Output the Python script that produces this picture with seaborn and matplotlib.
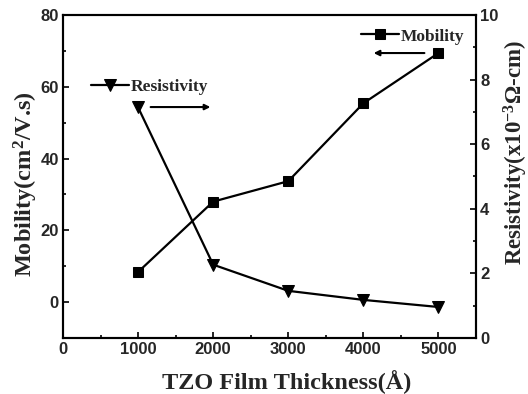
import matplotlib
matplotlib.use("Agg")
import matplotlib.pyplot as plt
from matplotlib.ticker import MultipleLocator
import pandas as pd
import seaborn as sns

thickness = [1000, 2000, 3000, 4000, 5000]
mobility = [8.4, 28.0, 33.7, 55.4, 69.4]
resistivity = [7.14, 2.27, 1.46, 1.18, 0.96]

sns.set_theme(style="ticks")
plt.rcParams["font.family"] = ["Liberation Serif", "DejaVu Serif"]
plt.rcParams["mathtext.fontset"] = "custom"
plt.rcParams["mathtext.rm"] = "Liberation Serif:bold"
plt.rcParams["mathtext.bf"] = "Liberation Serif:bold"
plt.rcParams["mathtext.it"] = "Liberation Serif:bold"

df = pd.DataFrame({"thickness": thickness, "mobility": mobility, "resistivity": resistivity})

fig = plt.figure(figsize=(5.28, 3.94), dpi=100)
ax = fig.add_axes([63 / 528, 56 / 394, 413 / 528, 323 / 394])
ax2 = ax.twinx()

sns.lineplot(data=df, x="thickness", y="mobility", ax=ax, color="black", marker="s",
             markersize=7, linewidth=1.6, markeredgecolor="black", label="Mobility", legend=False)
sns.lineplot(data=df, x="thickness", y="resistivity", ax=ax2, color="black", marker="v",
             markersize=9, linewidth=1.6, markeredgecolor="black", label="Resistivity", legend=False)

ax.set_xlim(0, 5500)
ax.set_ylim(-10, 80)
ax2.set_ylim(0, 10)

ax.xaxis.set_major_locator(MultipleLocator(1000))
ax.xaxis.set_minor_locator(MultipleLocator(500))
ax.yaxis.set_major_locator(MultipleLocator(20))
ax.yaxis.set_minor_locator(MultipleLocator(10))
ax2.yaxis.set_major_locator(MultipleLocator(2))
ax2.yaxis.set_minor_locator(MultipleLocator(1))

tick_font = dict(family="Liberation Sans", weight="bold", size=12)
for a in (ax, ax2):
    a.tick_params(which="both", direction="in", width=1.2, color="black", pad=3)
    a.tick_params(which="major", length=4)
    a.tick_params(which="minor", length=2.5)
    for sp in a.spines.values():
        sp.set_linewidth(1.5)
        sp.set_color("black")
ax.set_yticks([0, 20, 40, 60, 80])
ax.set_yticklabels(["0", "20", "40", "60", "80"], fontdict=tick_font)
ax.set_xticks([0, 1000, 2000, 3000, 4000, 5000])
ax.set_xticklabels(["0", "1000", "2000", "3000", "4000", "5000"], fontdict=tick_font)
ax2.set_yticks([0, 2, 4, 6, 8, 10])
ax2.set_yticklabels(["0", "2", "4", "6", "8", "10"], fontdict=tick_font)

ax.set_xlabel("TZO Film Thickness(Å)", family="Liberation Serif", weight="bold",
              size=17.5, labelpad=9)
ax.set_ylabel("Mobility(cm$^{2}$/V.s)", family="Liberation Serif", weight="bold",
              size=17.5, labelpad=0)
ax2.set_ylabel("Resistivity(x10$^{-3}$Ω-cm)", family="Liberation Serif", weight="bold",
               size=16.5, labelpad=2)
ax.xaxis.label.set_x(0.541)
ax.yaxis.label.set_y(0.477)
ax2.yaxis.label.set_y(0.576)

leg_font = dict(family="Liberation Serif", weight="bold", size=12.5)
ax2.legend(loc="upper left", bbox_to_anchor=(0.03, 0.85), frameon=False, prop=leg_font,
           handlelength=2.2, handletextpad=0.1)
ax.legend(loc="upper right", bbox_to_anchor=(1.01, 1.007), frameon=False, prop=leg_font,
          handlelength=2.2, handletextpad=0.1)

# direction arrows showing which axis each curve uses
ax2.annotate("", xy=(2000, 7.15), xytext=(1130, 7.15),
             arrowprops=dict(arrowstyle="-|>", color="black", lw=1.5, mutation_scale=8))
ax.annotate("", xy=(4100, 69.4), xytext=(4850, 69.4),
            arrowprops=dict(arrowstyle="-|>", color="black", lw=1.5, mutation_scale=8))

fig.savefig("out.png", dpi=100)
